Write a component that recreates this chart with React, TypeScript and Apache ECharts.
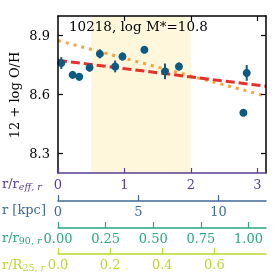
import React, { useEffect, useRef } from "react";
import * as echarts from "echarts";

// Data
const radii = [0.05, 0.22, 0.32, 0.475, 0.63, 0.86, 0.97, 1.3, 1.61, 1.82, 2.79, 2.84];
const oh = [8.76, 8.7, 8.69, 8.737, 8.807, 8.743, 8.794, 8.828, 8.718, 8.743, 8.507, 8.71];
const ohErr = [0.03, 0.012, 0.015, 0.02, 0.023, 0.03, 0.02, 0.01, 0.04, 0.02, 0, 0.04];
const fitR = [0, 3.13];
const fitRed = [8.774, 8.642];
const fitOrange = [8.875, 8.592];
const shadeRange = [0.5, 2.0];
const reffTicks = [0, 1, 2, 3];
const kpcTicks = [0, 5, 10];
const r90Ticks = [0, 0.25, 0.5, 0.75, 1.0];
const r25Ticks = [0, 0.2, 0.4, 0.6];
const yTicks = [8.3, 8.6, 8.9];
const title = "10218, log M*=10.8";

const FONT = "DejaVu Serif";
const PURPLE = "#5a3e93";
const BLUE = "#41699a";
const TEAL = "#2aa883";
const LIME = "#b9d92e";
const MARK = "#0e5b82";

function bottomAxis(max: number, offset: number, color: string, ticks: number[], dec: number | null) {
  return {
    type: "value",
    position: "bottom",
    min: 0,
    max,
    offset,
    z: 20,
    splitLine: { show: false },
    axisLine: { show: true, onZero: false, lineStyle: { color, width: 1.5 } },
    axisTick: { show: true, inside: true, length: offset === 0 ? 5 : 6, customValues: ticks, lineStyle: { color, width: 1.2 } },
    axisLabel: {
      show: true,
      customValues: ticks,
      color,
      fontFamily: FONT,
      fontSize: 13,
      margin: offset === 0 ? 5 : 4,
      formatter: (v: number) => (dec === null ? String(v) : v.toFixed(dec)),
    },
  };
}

export default function App() {
  const ref = useRef<HTMLDivElement>(null);
  useEffect(() => {
    if (!ref.current) return;
    const chart = echarts.init(ref.current, null, { renderer: "svg" });
    const sub = (c: string, italic: boolean) => ({
      fontFamily: FONT,
      fontSize: 9.5,
      fontStyle: italic ? "italic" : "normal",
      lineHeight: 10,
      verticalAlign: "bottom",
      color: c,
    });
    const main = (c: string) => ({ fontFamily: FONT, fontSize: 13, lineHeight: 16, color: c });
    const axTitle = (y: number, c: string, text: string) => ({
      type: "text",
      left: 2,
      top: y - 8,
      style: {
        text,
        rich: { m: main(c), s: sub(c, true), n: sub(c, false) },
        fill: c,
      },
    });
    chart.setOption({
      animation: false,
      grid: { left: 58, top: 16, right: 11, bottom: 104 },
      xAxis: [
        bottomAxis(3.13, 0, PURPLE, reffTicks, null),
        bottomAxis(208 / 16.06, 28, BLUE, kpcTicks, null),
        bottomAxis(208 / 190.5, 55, TEAL, r90Ticks, 2),
        bottomAxis(208 / 260.6, 81, LIME, r25Ticks, 1),
        {
          type: "value",
          position: "top",
          min: 0,
          max: 3.13,
          z: 20,
          splitLine: { show: false },
          axisLine: { show: true, onZero: false, lineStyle: { color: "#000", width: 1.5 } },
          axisTick: { show: true, inside: true, length: 5, customValues: [1, 2, 3], lineStyle: { color: "#000", width: 1.2 } },
          axisLabel: { show: false },
        },
      ],
      yAxis: [
        {
          type: "value",
          min: 8.2,
          max: 9.0,
          position: "left",
          z: 20,
          splitLine: { show: false },
          axisLine: { show: true, onZero: false, lineStyle: { color: "#000", width: 1.5 } },
          axisTick: { show: true, inside: true, length: 5, customValues: yTicks, lineStyle: { color: "#000", width: 1.2 } },
          axisLabel: {
            customValues: yTicks,
            color: "#000",
            fontFamily: FONT,
            fontSize: 13,
            margin: 8,
            formatter: (v: number) => v.toFixed(1),
          },
        },
        {
          type: "value",
          min: 8.2,
          max: 9.0,
          position: "right",
          z: 20,
          splitLine: { show: false },
          axisLine: { show: true, onZero: false, lineStyle: { color: "#000", width: 1.5 } },
          axisTick: { show: true, inside: true, length: 5, customValues: yTicks, lineStyle: { color: "#000", width: 1.2 } },
          axisLabel: { show: false },
        },
      ],
      series: [
        {
          type: "line",
          xAxisIndex: 0,
          yAxisIndex: 0,
          data: [],
          z: 1,
          markArea: {
            silent: true,
            itemStyle: { color: "#fef7dc" },
            data: [[{ xAxis: shadeRange[0] }, { xAxis: shadeRange[1] }]],
          },
        },
        {
          type: "line",
          xAxisIndex: 0,
          yAxisIndex: 0,
          symbol: "none",
          z: 2,
          data: fitR.map((r, i) => [r, fitOrange[i]]),
          lineStyle: { color: "#f9a33f", width: 3, type: [3, 5] },
        },
        {
          type: "line",
          xAxisIndex: 0,
          yAxisIndex: 0,
          symbol: "none",
          z: 3,
          data: fitR.map((r, i) => [r, fitRed[i]]),
          lineStyle: { color: "#e8302a", width: 3, type: [9, 4] },
        },
        {
          type: "custom",
          xAxisIndex: 0,
          yAxisIndex: 0,
          z: 4,
          data: radii.map((r, i) => [r, oh[i] - ohErr[i], oh[i] + ohErr[i]]),
          encode: { x: 0, y: [1, 2] },
          renderItem: (params: any, api: any) => {
            const x = api.value(0);
            const p1 = api.coord([x, api.value(1)]);
            const p2 = api.coord([x, api.value(2)]);
            return {
              type: "line",
              shape: { x1: p1[0], y1: p1[1], x2: p2[0], y2: p2[1] },
              style: { stroke: MARK, lineWidth: 2 },
            };
          },
        },
        {
          type: "scatter",
          xAxisIndex: 0,
          yAxisIndex: 0,
          z: 5,
          symbol: "circle",
          symbolSize: 8,
          itemStyle: { color: MARK, opacity: 1 },
          data: radii.map((r, i) => [r, oh[i]]),
        },
      ],
      graphic: [
        {
          type: "text",
          left: 69,
          top: 19,
          z: 10,
          style: { text: title, fontFamily: FONT, fontSize: 13.5, fill: "#000" },
        },
        {
          type: "text",
          x: 14,
          y: 95,
          rotation: Math.PI / 2,
          style: {
            text: "12 + log O/H",
            fontFamily: FONT,
            fontSize: 13,
            fill: "#000",
            align: "center",
            verticalAlign: "middle",
          },
        },
        axTitle(185, PURPLE, "{m|r/r}{s|eff, r}"),
        axTitle(211, BLUE, "{m|r [kpc]}"),
        axTitle(239, TEAL, "{m|r/r}{n|90, }{s|r}"),
        axTitle(266, LIME, "{m|r/R}{n|25, }{s|r}"),
      ],
    });
    return () => chart.dispose();
  }, []);
  return <div ref={ref} style={{ position: "fixed", left: 0, top: 0, width: 277, height: 277 }} />;
}
